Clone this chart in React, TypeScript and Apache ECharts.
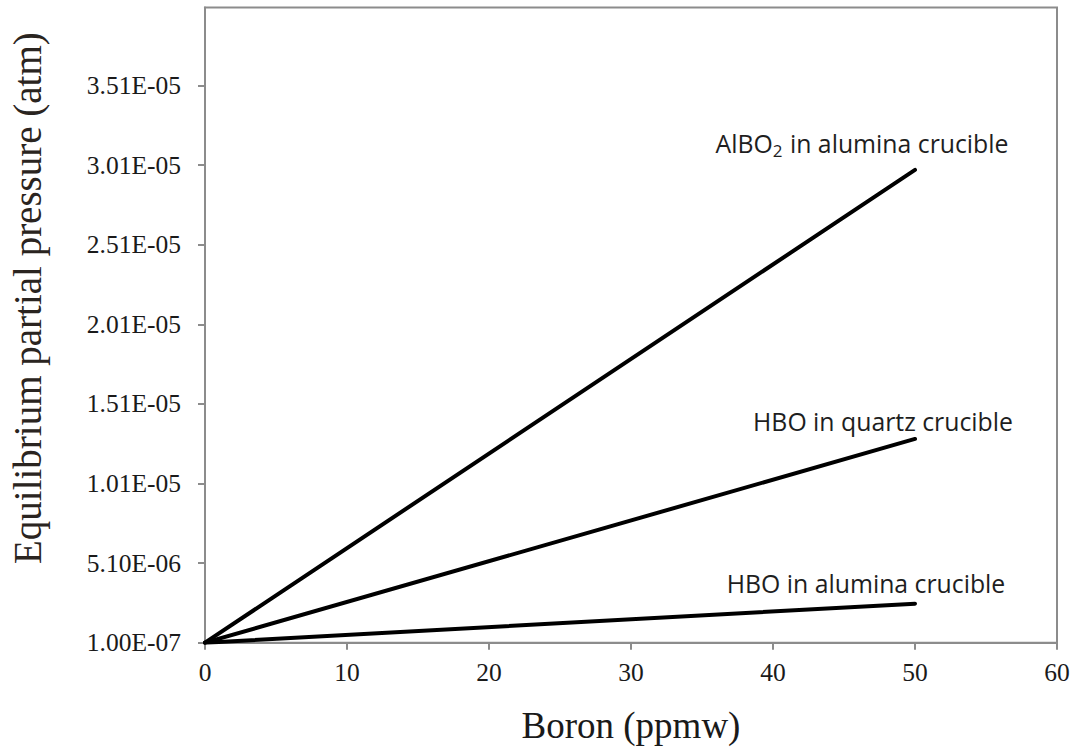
import React, { useEffect, useRef } from "react";
import * as echarts from "echarts";

const boron = [0, 50];
const alBO2Alumina = [1.0e-7, 2.98e-5];
const hboQuartz = [1.0e-7, 1.29e-5];
const hboAlumina = [1.0e-7, 2.55e-6];
const yTicks = [1.0e-7, 5.1e-6, 1.01e-5, 1.51e-5, 2.01e-5, 2.51e-5, 3.01e-5, 3.51e-5];
const seriesNames = ["AlBO2 in alumina crucible", "HBO in quartz crucible", "HBO in alumina crucible"];
const labelTexts = [
  "{a|AlBO}{s|2}{a| in alumina crucible}",
  "{a|HBO in quartz crucible}",
  "{a|HBO in alumina crucible}",
];
const labelOffsets = [
  [-53, -27],
  [-32, -18],
  [-49, -21],
];

const fmtExp = (v: number) => {
  const [m, e] = v.toExponential(2).split("e");
  const n = parseInt(e, 10);
  return m + "E" + (n < 0 ? "-" : "+") + String(Math.abs(n)).padStart(2, "0");
};

const serif = "'Liberation Serif', 'Times New Roman', serif";
const sans = "'Open Sans', 'Noto Sans', sans-serif";
const gray = "#8c8c8c";

export default function App() {
  const ref = useRef<HTMLDivElement>(null);
  useEffect(() => {
    if (!ref.current) return;
    const chart = echarts.init(ref.current, undefined, { renderer: "svg" });
    const allValues = [alBO2Alumina, hboQuartz, hboAlumina];
    const series = allValues.map((vals, i) => ({
      type: "line",
      name: seriesNames[i],
      data: boron.map((x, j) => [x, vals[j]]),
      showSymbol: false,
      symbol: "none",
      lineStyle: { color: "#000", width: 4, cap: "round" },
      z: 3,
      markPoint: {
        symbol: "circle",
        symbolSize: 0,
        data: [{ coord: [boron[boron.length - 1], vals[vals.length - 1]] }],
        label: {
          show: true,
          position: "inside",
          offset: labelOffsets[i],
          formatter: labelTexts[i],
          rich: {
            a: { fontFamily: sans, fontSize: 24.8, color: "#1e1e1e" },
            s: { fontFamily: sans, fontSize: 17, color: "#1e1e1e", padding: [16, 1, 0, 0] },
          },
        },
      },
    }));
    chart.setOption({
      animation: false,
      backgroundColor: "#fff",
      grid: {
        left: 203,
        right: 20,
        top: 7.5,
        bottom: 108.3,
        show: true,
        borderColor: gray,
        borderWidth: 2,
        backgroundColor: "transparent",
      },
      xAxis: {
        type: "value",
        min: 0,
        max: 60,
        interval: 10,
        name: "Boron (ppmw)",
        nameLocation: "middle",
        nameGap: 64,
        nameTextStyle: { fontFamily: serif, fontSize: 37, color: "#1a1a1a" },
        axisLine: { lineStyle: { color: gray, width: 2 } },
        axisTick: { show: true, inside: false, length: 7, lineStyle: { color: gray, width: 2 } },
        axisLabel: { fontFamily: serif, fontSize: 25.5, color: "#1a1a1a", margin: 17 },
        splitLine: { show: false },
      },
      yAxis: {
        type: "value",
        min: 1.0e-7,
        max: 4.0e-5,
        name: "Equilibrium partial pressure (atm)",
        nameLocation: "middle",
        nameGap: 158,
        nameTextStyle: { fontFamily: serif, fontSize: 39, color: "#2a2420", padding: [0, 0, 0, 54] },
        axisLine: { lineStyle: { color: gray, width: 2 } },
        axisTick: {
          show: true,
          inside: false,
          length: 7,
          lineStyle: { color: gray, width: 2 },
          customValues: yTicks,
        },
        axisLabel: {
          fontFamily: serif,
          fontSize: 25.5,
          color: "#1a1a1a",
          margin: 24,
          customValues: yTicks,
          formatter: (v: number) => fmtExp(v),
        },
        splitLine: { show: false },
      },
      series,
    });
    return () => chart.dispose();
  }, []);
  return (
    <div
      ref={ref}
      style={{ position: "fixed", left: 0, top: 0, width: 1077, height: 751, background: "#fff" }}
    />
  );
}
